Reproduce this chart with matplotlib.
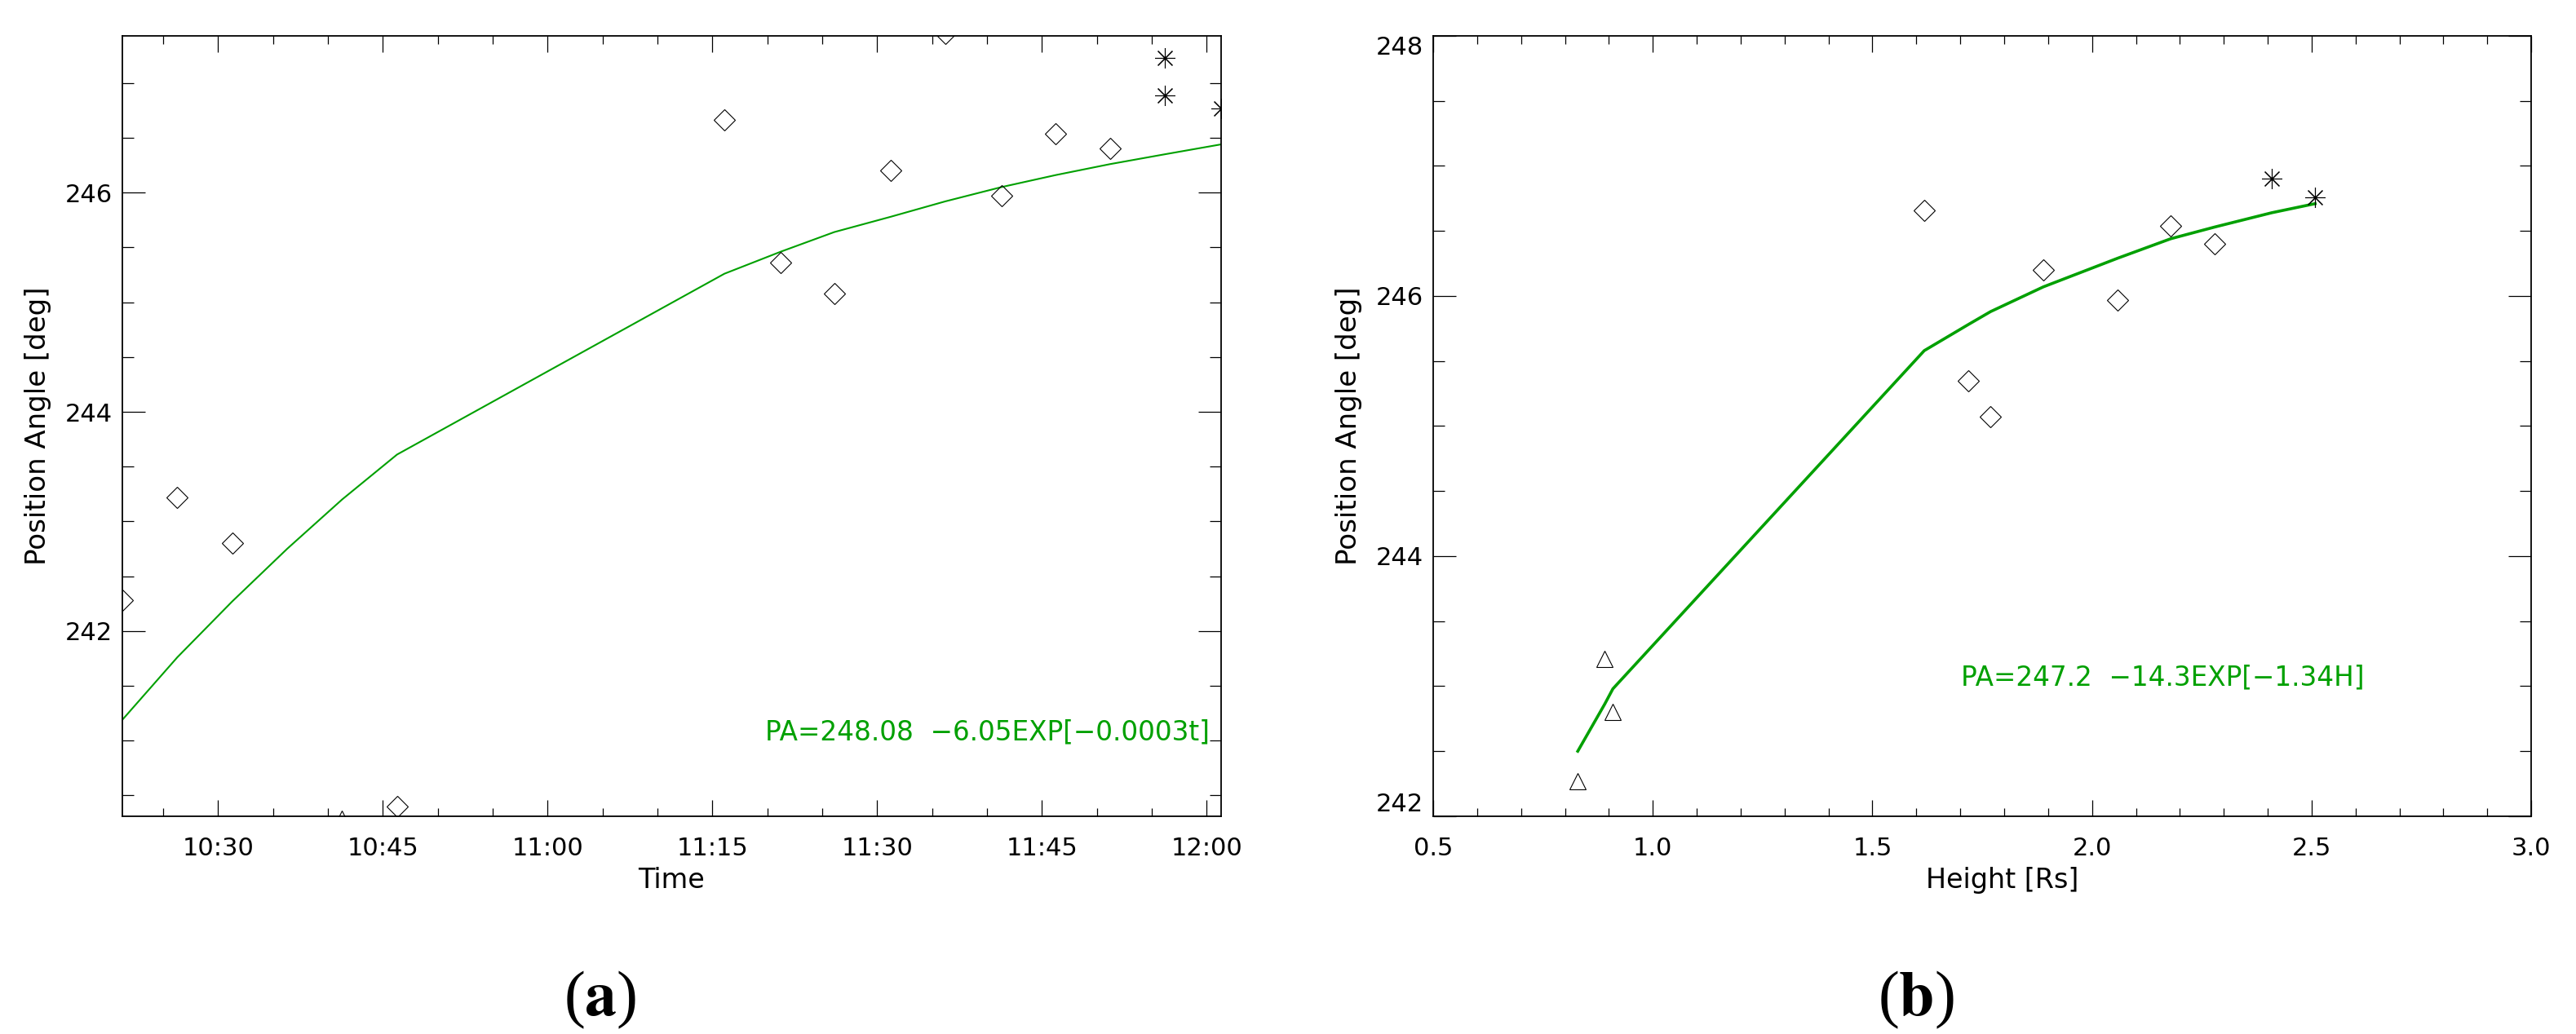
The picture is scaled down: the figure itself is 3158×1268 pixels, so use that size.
import matplotlib
matplotlib.use('Agg')
import matplotlib.pyplot as plt
import matplotlib.ticker as tck

plt.rcParams['font.family'] = ['DejaVu Sans']
plt.rcParams['mathtext.fontset'] = 'stix'

# ---- panel (a): position angle vs time (UT) ----
diamond_time = ['10:21:18', '10:26:18', '10:31:18', '10:46:18', '11:16:06', '11:21:12',
                '11:26:06', '11:31:15', '11:36:12', '11:41:18', '11:46:15', '11:51:12']
diamond_pa = [242.28, 243.22, 242.80, 240.40, 246.66, 245.36,
              245.08, 246.20, 247.45, 245.97, 246.54, 246.40]
triangle_time = ['10:41:18']
triangle_pa = [240.29]
star_time = ['11:56:12', '11:56:12', '12:01:18']
star_pa = [247.23, 246.89, 246.77]

fit_time = ['10:21:18', '10:26:18', '10:31:18', '10:36:18', '10:41:18', '10:46:18',
            '11:16:06', '11:21:12', '11:26:06', '11:31:15', '11:36:12', '11:41:18',
            '11:46:15', '11:51:12', '11:56:12', '12:01:18']
fit_pa = [241.19, 241.76, 242.27, 242.75, 243.20, 243.61,
          245.26, 245.46, 245.64, 245.78, 245.92, 246.05,
          246.16, 246.26, 246.35, 246.44]

time_ticks = ['10:30', '10:45', '11:00', '11:15', '11:30', '11:45', '12:00']
time_range = ['10:21:18', '12:01:18']
pa_range_a = [240.31, 247.43]
fit_text_a = 'PA=248.08  \u22126.05EXP[\u22120.0003t]'

# ---- panel (b): position angle vs height ----
tri_h = [0.829, 0.890, 0.909]
tri_pa = [242.27, 243.21, 242.80]
dia_h = [1.618, 1.718, 1.769, 1.889, 2.058, 2.179, 2.279]
dia_pa = [246.66, 245.35, 245.07, 246.20, 245.97, 246.54, 246.40]
ast_h = [2.409, 2.508]
ast_pa = [246.90, 246.76]

fit_h = [0.829, 0.890, 0.909, 1.618, 1.718, 1.769, 1.889, 2.058, 2.179, 2.279, 2.409, 2.508]
fit_pa_h = [242.50, 242.86, 242.98, 245.58, 245.78, 245.88, 246.07, 246.29, 246.44, 246.53, 246.64, 246.71]
fit_text_b = 'PA=247.2  \u221214.3EXP[\u22121.34H]'


def minutes(s):
    parts = [int(p) for p in s.split(':')] + [0]
    return (parts[0] - 10) * 60 + parts[1] + parts[2] / 60.0


green = '#00a000'
asterisk = (8, 2, 0)
sym = dict(ls='none', mfc='none', mec='black', mew=0.8)

fig = plt.figure(figsize=(31.58, 12.68), dpi=100)
axa = fig.add_axes([0.0475, 0.2106, 0.4265, 0.7547])
axb = fig.add_axes([0.5564, 0.2106, 0.4262, 0.7547])

# panel (a)
axa.plot([minutes(t) for t in fit_time], fit_pa, color=green, lw=1.5)
axa.plot([minutes(t) for t in diamond_time], diamond_pa, marker='D', ms=13, **sym)
axa.plot([minutes(t) for t in triangle_time], triangle_pa, marker='^', ms=15, **sym)
axa.plot([minutes(t) for t in star_time], star_pa, marker=asterisk, ms=18, **sym)
axa.set_xlim(minutes(time_range[0]), minutes(time_range[1]))
axa.set_ylim(pa_range_a)
axa.set_xticks([minutes(t) for t in time_ticks])
axa.set_xticklabels(time_ticks)
axa.xaxis.set_minor_locator(tck.MultipleLocator(5))
axa.yaxis.set_major_locator(tck.MultipleLocator(2))
axa.yaxis.set_minor_locator(tck.MultipleLocator(0.5))
axa.set_xlabel('Time', fontsize=24, labelpad=6)
axa.set_ylabel('Position Angle [deg]', fontsize=24.5, labelpad=12)
axa.text(0.9896, 0.1076, fit_text_a, transform=axa.transAxes, color=green,
         fontsize=23.5, ha='right', va='center')

# panel (b)
axb.plot(fit_h, fit_pa_h, color=green, lw=2.6)
axb.plot(tri_h, tri_pa, marker='^', ms=15, **sym)
axb.plot(dia_h, dia_pa, marker='D', ms=13, **sym)
axb.plot(ast_h, ast_pa, marker=asterisk, ms=18, **sym)
axb.set_xlim(0.5, 3.0)
axb.set_ylim(242, 248)
axb.xaxis.set_major_locator(tck.MultipleLocator(0.5))
axb.xaxis.set_minor_locator(tck.MultipleLocator(0.1))
axb.xaxis.set_major_formatter(tck.FormatStrFormatter('%.1f'))
axb.yaxis.set_major_locator(tck.MultipleLocator(2))
axb.yaxis.set_minor_locator(tck.MultipleLocator(0.5))
axb.set_xlabel('Height [Rs]', fontsize=24, labelpad=6)
axb.xaxis.label.set_x(0.518)
axb.set_ylabel('Position Angle [deg]', fontsize=24.5, labelpad=12)
axb.text(0.4807, 0.1776, fit_text_b, transform=axb.transAxes, color=green,
         fontsize=23.5, ha='left', va='center')

for ax in (axa, axb):
    for side in ax.spines.values():
        side.set_linewidth(1.3)
    ax.tick_params(axis='both', which='both', direction='in', top=True, right=True,
                   labelsize=22, width=0.9)
    ax.tick_params(axis='x', which='major', length=14.4, pad=18)
    ax.tick_params(axis='x', which='minor', length=7.2)
    ax.tick_params(axis='y', which='major', length=20, pad=9)
    ax.tick_params(axis='y', which='minor', length=10)

# IDL keeps the end labels of panel (b) inside the box
fig.canvas.draw()
for tick in axb.yaxis.get_major_ticks():
    v = tick.get_loc()
    if abs(v - 248) < 1e-6:
        tick.label1.set_va('top')
    elif abs(v - 242) < 1e-6:
        tick.label1.set_va('bottom')

# sub-figure captions
fig.text(736 / 3158, 1 - 1226 / 1268, r'($\mathbf{a}$)', fontsize=56, ha='center', va='center',
         family='Liberation Serif')
fig.text(2349 / 3158, 1 - 1226 / 1268, r'($\mathbf{b}$)', fontsize=56, ha='center', va='center',
         family='Liberation Serif')

fig.savefig('out.png', dpi=100)
